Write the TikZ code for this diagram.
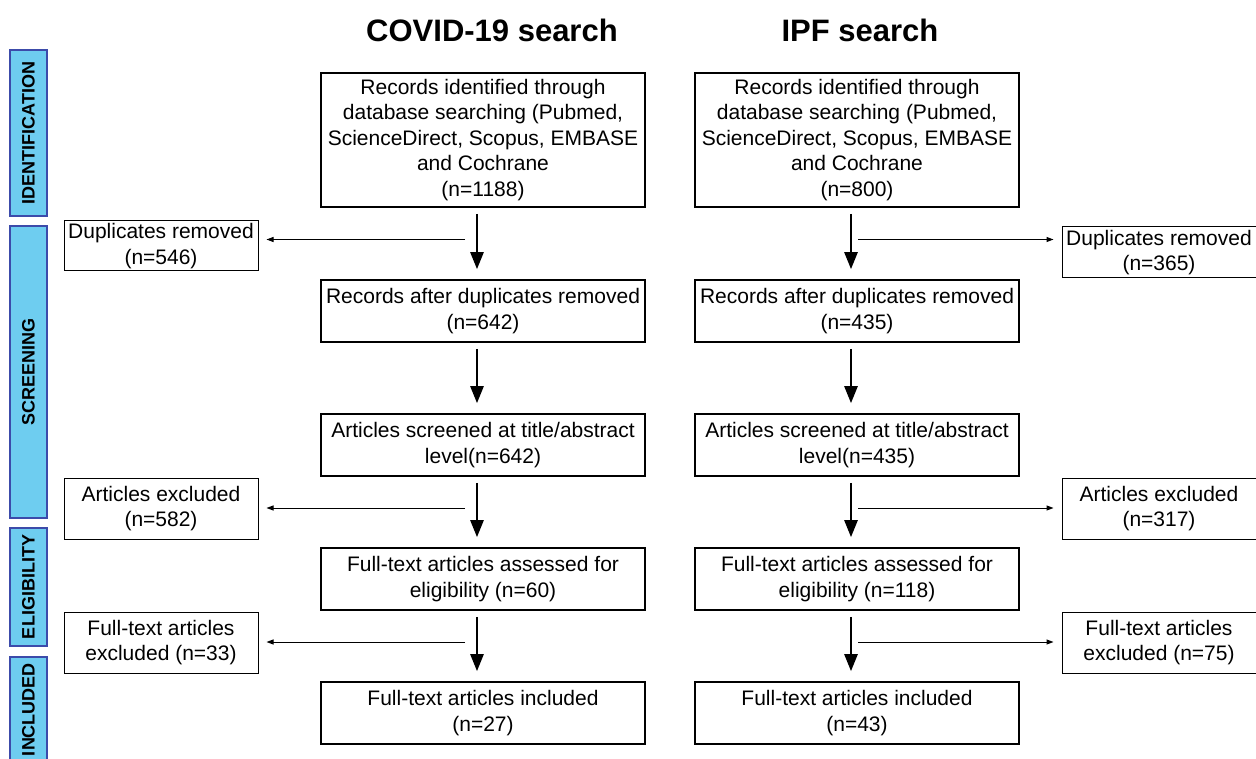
\documentclass[tikz,border=0pt]{standalone}
\usepackage{fontspec}
\setmainfont{Liberation Sans}
\usetikzlibrary{arrows.meta,calc}
\definecolor{phasefill}{RGB}{110,205,240}
\definecolor{phaseline}{RGB}{60,75,170}
\begin{document}
\begin{tikzpicture}[x=1pt,y=-1pt,
  mainbox/.style={draw,line width=1.6pt,minimum width=324pt,minimum height=62pt,align=center,inner sep=1pt,font=\fontsize{21}{25.5}\selectfont},
  sidebox/.style={draw,line width=1pt,minimum width=194pt,minimum height=61pt,align=center,inner sep=1pt,font=\fontsize{21}{25.5}\selectfont},
  phase/.style={draw=phaseline,fill=phasefill,line width=1.5pt,minimum height=37pt,rotate=90,font=\fontsize{18}{18}\selectfont\bfseries},
  headline/.style={font=\fontsize{31}{31}\selectfont\bfseries},
  flowarrow/.style={line width=2.5pt,-{Triangle[length=17pt,width=13pt]},shorten <=6pt,shorten >=10pt},
  branch/.style={line width=1pt,-{Triangle[length=7pt,width=5pt]},shorten >=8pt}]
\useasboundingbox (0,0) rectangle (1256,759);
\clip (0,0) rectangle (1256,759);
% phase bars
\node[phase,minimum width=166pt] (pid) at (28.5,133) {IDENTIFICATION};
\node[phase,minimum width=292pt] (pscr) at (28.5,372) {SCREENING};
\node[phase,minimum width=118pt] (pel) at (28.5,587) {ELIGIBILITY};
\node[phase,minimum width=105pt] (pin) at (28.5,709.5) {INCLUDED};
% headings
\node[headline] (tcovid) at (492,30) {COVID-19 search};
\node[headline] (tipf) at (860,30) {IPF search};
% COVID-19 column
\node[mainbox,minimum height=134pt] (c1) at (483,140) {Records identified through\\database searching (Pubmed,\\ScienceDirect, Scopus, EMBASE\\and Cochrane\\(n=1188)};
\node[mainbox] (c2) at (483,311) {Records after duplicates removed\\(n=642)};
\node[mainbox] (c3) at (483,445) {Articles screened at title/abstract\\level(n=642)};
\node[mainbox] (c4) at (483,579) {Full-text articles assessed for\\eligibility (n=60)};
\node[mainbox] (c5) at (483,713) {Full-text articles included\\(n=27)};
\node[sidebox,minimum height=50pt] (cdup) at (161,246) {Duplicates removed\\(n=546)};
\node[sidebox] (cexc) at (161,508.5) {Articles excluded\\(n=582)};
\node[sidebox] (cful) at (161,642.5) {Full-text articles\\excluded (n=33)};
% IPF column
\node[mainbox,minimum height=134pt] (i1) at (857,140) {Records identified through\\database searching (Pubmed,\\ScienceDirect, Scopus, EMBASE\\and Cochrane\\(n=800)};
\node[mainbox] (i2) at (857,311) {Records after duplicates removed\\(n=435)};
\node[mainbox] (i3) at (857,445) {Articles screened at title/abstract\\level(n=435)};
\node[mainbox] (i4) at (857,579) {Full-text articles assessed for\\eligibility (n=118)};
\node[mainbox] (i5) at (857,713) {Full-text articles included\\(n=43)};
\node[sidebox,minimum height=51pt] (idup) at (1159,252.5) {Duplicates removed\\(n=365)};
\node[sidebox] (iexc) at (1159,508.5) {Articles excluded\\(n=317)};
\node[sidebox] (iful) at (1159,642.5) {Full-text articles\\excluded (n=75)};
% arrows
\foreach \a/\b in {c1/c2,c2/c3,c3/c4,c4/c5,i1/i2,i2/i3,i3/i4,i4/i5}
  \draw[flowarrow] ([xshift=-6pt]\a.south) -- ([xshift=-6pt]\b.north);
\foreach \a/\b/\s in {1/2/dup,3/4/exc,4/5/ful} {
  \coordinate (cj\a) at ($(c\a.south)!0.5!(c\b.north)+(-18,-4)$);
  \coordinate (ij\a) at ($(i\a.south)!0.5!(i\b.north)+(1,-4)$);
  \draw[branch] (cj\a) -- (c\s.east |- cj\a);
  \draw[branch] (ij\a) -- (i\s.west |- ij\a);
}
\end{tikzpicture}
\end{document}
